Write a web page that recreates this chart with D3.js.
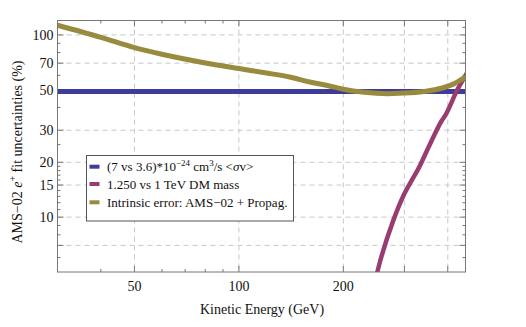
<!DOCTYPE html>
<meta charset="utf-8">
<style>
    body { margin: 0; background: #fff; }
    text { font-family: "Liberation Serif", "Times New Roman", serif; fill: #111; }
    .grid line { stroke: #c8c8c8; stroke-dasharray: 5,4; }
    .frame { fill: none; stroke: #777; stroke-width: 1; }
    .tick { stroke: #777; }
</style>
<body>
<div id="chart"></div>
<script src="https://d3js.org/d3.v7.min.js"></script>
<script>

    // energies (GeV) and fit uncertainties (%)
    var crossSection_E = [30, 450],
        crossSection_U = [49, 49];

    var mass_E = [245, 255.7, 278.7, 298.5, 315.5, 327.5, 356, 385, 393.6, 425.6, 455],
        mass_U = [4.2, 5.78, 9.6, 13.2, 16.0, 18.1, 25.3, 34, 36.2, 49.7, 62];

    var intrinsic_E = [30, 40, 50, 60, 80, 100, 120, 140, 160, 180, 200, 230, 268, 312, 350, 381, 420, 450],
        intrinsic_U = [113, 97, 85.2, 78.3, 70.2, 65.4, 61.8, 58.8, 55.2, 52.8, 50.3, 48.4, 47.6, 48.1, 49.2, 50.8, 54.3, 58.8];

    var xTickLabels = [50, 100, 200],
        xGrid = [50, 100, 200, 300, 400],
        xMinor = [40, 60, 70, 80, 90];

    var yTickLabels = [100, 70, 50, 30, 20, 15, 10],
        yGrid = [100, 70, 50, 30, 20, 15, 10, 7],
        yMinor = [6, 8, 9, 11, 12, 13, 14, 16, 17, 18, 19, 25, 40, 60, 80, 90, 110];

    var seriesNames = ["crossSection", "mass", "intrinsic"],
        seriesColors = ["rgb(61,61,153)", "rgb(153,61,113)", "rgb(153,139,61)"];

    var svg_dx = 526, svg_dy = 327,
        pLeft = 57.5, pRight = 465.5, pTop = 20.5, pBottom = 272;

    var x = d3.scaleLog().domain([30, 450]).range([pLeft, pRight]),
        y = d3.scaleLog().domain([5, 120]).range([pBottom, pTop]);

    var svg = d3.select("#chart").append("svg")
                .attr("width", svg_dx).attr("height", svg_dy);

    svg.append("defs").append("clipPath").attr("id", "plotclip")
       .append("rect").attr("x", pLeft).attr("y", pTop)
       .attr("width", pRight - pLeft).attr("height", pBottom - pTop);

    // dashed grid
    var grid = svg.append("g").attr("class", "grid");
    grid.selectAll(".gx").data(xGrid).enter().append("line")
        .attr("x1", d => x(d)).attr("x2", d => x(d))
        .attr("y1", pTop).attr("y2", pBottom);
    grid.selectAll(".gy").data(yGrid).enter().append("line")
        .attr("y1", d => y(d)).attr("y2", d => y(d))
        .attr("x1", pLeft).attr("x2", pRight);

    // ticks on all four sides, pointing inward
    var ticks = svg.append("g");
    function xTicks(vals, len) {
        vals.forEach(function (v) {
            ticks.append("line").attr("class", "tick")
                 .attr("x1", x(v)).attr("x2", x(v)).attr("y1", pBottom).attr("y2", pBottom - len);
            ticks.append("line").attr("class", "tick")
                 .attr("x1", x(v)).attr("x2", x(v)).attr("y1", pTop).attr("y2", pTop + len);
        });
    }
    function yTicks(vals, len) {
        vals.forEach(function (v) {
            ticks.append("line").attr("class", "tick")
                 .attr("y1", y(v)).attr("y2", y(v)).attr("x1", pLeft).attr("x2", pLeft + len);
            ticks.append("line").attr("class", "tick")
                 .attr("y1", y(v)).attr("y2", y(v)).attr("x1", pRight).attr("x2", pRight - len);
        });
    }
    xTicks(xGrid, 6);
    xTicks(xMinor, 3);
    yTicks(yGrid, 6);
    yTicks(yMinor, 3);

    // curves
    var line = d3.line().x(d => x(d[0])).y(d => y(d[1])).curve(d3.curveMonotoneX);
    var seriesData = [
        d3.zip(crossSection_E, crossSection_U),
        d3.zip(mass_E, mass_U),
        d3.zip(intrinsic_E, intrinsic_U)
    ];
    var widths = [5, 4.5, 5];

    svg.append("g").attr("clip-path", "url(#plotclip)")
       .selectAll("path").data(seriesData).enter().append("path")
       .attr("d", line)
       .attr("fill", "none")
       .attr("stroke", (d, i) => seriesColors[i])
       .attr("stroke-width", (d, i) => widths[i])
       .attr("stroke-linejoin", "round");

    svg.append("rect").attr("class", "frame")
       .attr("x", pLeft).attr("y", pTop)
       .attr("width", pRight - pLeft).attr("height", pBottom - pTop);

    // tick labels
    svg.append("g").selectAll("text").data(xTickLabels).enter().append("text")
       .attr("x", d => x(d)).attr("y", 291)
       .attr("text-anchor", "middle").attr("font-size", 14)
       .text(d => d);

    svg.append("g").selectAll("text").data(yTickLabels).enter().append("text")
       .attr("x", 53.5).attr("y", d => y(d) + 4.8)
       .attr("text-anchor", "end").attr("font-size", 14)
       .text(d => d);

    // axis titles
    svg.append("text")
       .attr("x", 262).attr("y", 314)
       .attr("text-anchor", "middle").attr("font-size", 14)
       .text("Kinetic Energy (GeV)");

    var yl = svg.append("text")
       .attr("transform", "translate(22,152) rotate(-90)")
       .attr("text-anchor", "middle").attr("font-size", 14);
    yl.append("tspan").text("AMS\u221202 ");
    yl.append("tspan").attr("font-style", "italic").text("e");
    yl.append("tspan").attr("dy", -6).attr("font-size", 10).text("+");
    yl.append("tspan").attr("dy", 6).text(" fit uncertainties (%)");

    // legend
    var lg = svg.append("g");
    lg.append("rect")
      .attr("x", 86.5).attr("y", 155.5).attr("width", 207).attr("height", 65.5)
      .attr("fill", "#fff").attr("stroke", "#555");

    var legendY = [166.7, 184, 202.3];
    lg.selectAll(".sw").data(seriesNames).enter().append("rect")
      .attr("x", 89.5).attr("y", (d, i) => legendY[i] - 2)
      .attr("width", 10).attr("height", 4)
      .attr("fill", (d, i) => seriesColors[i]);

    var t0 = lg.append("text").attr("x", 107).attr("y", legendY[0] + 4.5).attr("font-size", 13);
    t0.append("tspan").text("(7 vs 3.6)*10");
    t0.append("tspan").attr("dy", -5).attr("font-size", 9).text("\u221224");
    t0.append("tspan").attr("dy", 5).text(" cm");
    t0.append("tspan").attr("dy", -5).attr("font-size", 9).text("3");
    t0.append("tspan").attr("dy", 5).text("/s <");
    t0.append("tspan").attr("font-style", "italic").text("\u03c3");
    t0.append("tspan").text("v>");

    lg.append("text").attr("x", 107).attr("y", legendY[1] + 4.5).attr("font-size", 13)
      .text("1.250 vs 1 TeV DM mass");
    lg.append("text").attr("x", 107).attr("y", legendY[2] + 4.5).attr("font-size", 13)
      .text("Intrinsic error: AMS\u221202 + Propag.");

</script>
</body>
